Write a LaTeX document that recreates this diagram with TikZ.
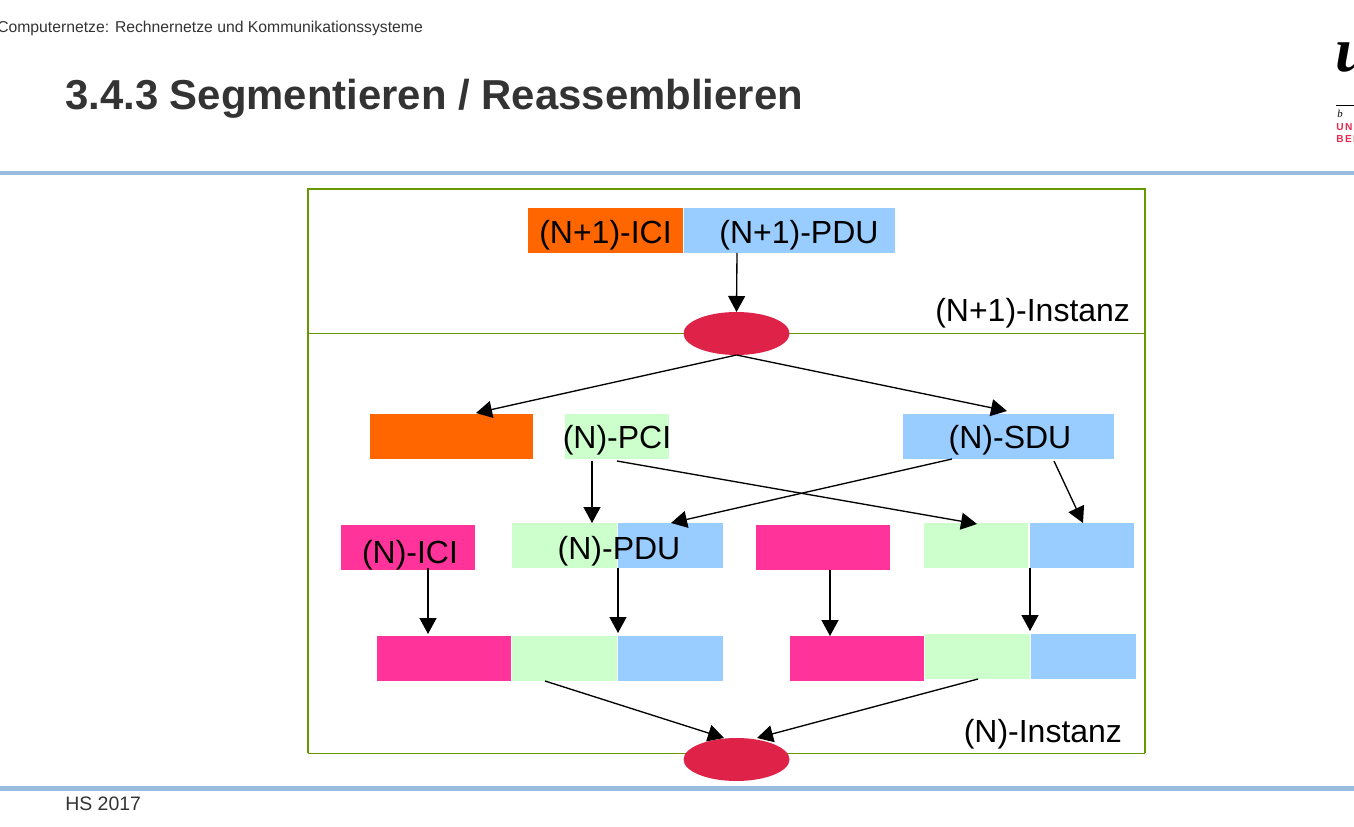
\documentclass[tikz,border=0pt]{standalone}
\usepackage{fontspec}
\setmainfont{Liberation Sans}
\newfontfamily\logoserif{Liberation Serif}
\newfontfamily\logosans[LetterSpace=14]{Liberation Sans}
\usetikzlibrary{shapes.geometric,arrows.meta}
\definecolor{frameg}{HTML}{669900}
\definecolor{rulebl}{HTML}{99BBDD}
\definecolor{orangeb}{HTML}{FF6600}
\definecolor{blueb}{HTML}{99CCFF}
\definecolor{greenb}{HTML}{CCFFCC}
\definecolor{pinkb}{HTML}{FF3399}
\definecolor{redb}{HTML}{DF2348}
\definecolor{titleg}{HTML}{333333}
\definecolor{logored}{HTML}{E6294F}
\newcommand{\pxbox}[6]{%
  \pgfmathsetmacro{\bw}{(#4-#2)*0.75}\pgfmathsetmacro{\bh}{(#5-#3)*0.75}%
  \node[boxn,fill=#6,minimum width=\bw pt,minimum height=\bh pt] (#1) at ({(#2+#4)/2},{(#3+#5)/2}) {};}
\tikzset{
  boxn/.style={draw=none,inner sep=0pt,outer sep=0pt,rectangle},
  proc/.style={ellipse,fill=redb,draw=none,inner sep=0pt,outer sep=0pt,minimum width=79.5pt,minimum height=32.25pt},
  lab/.style={anchor=base,inner sep=0pt,outer sep=0pt,font=\fontsize{24pt}{26pt}\selectfont,text=black},
  arr/.style={-{Triangle[length=12pt,width=12.75pt]},line width=1pt,black},
  lineg/.style={frameg,line width=0.75pt},
  frameline/.style={frameg,line width=1.3pt},
  rulel/.style={rulebl,line width=3.4pt}
}
\begin{document}
\begin{tikzpicture}[x=0.75pt,y=-0.75pt]
\useasboundingbox (0,0) rectangle (1354,827);
% page furniture
\begin{scope}
\clip (0,0) rectangle (1354,827);
\node[anchor=base west,inner sep=0pt,text=titleg,font=\fontsize{11.8pt}{13pt}\selectfont] (hdr) at (-3,33) {Computernetze: Rechnernetze und Kommunikationssysteme};
\node[anchor=base west,inner sep=0pt,text=titleg,font=\fontsize{31.4pt}{35pt}\bfseries\selectfont] (ttl) at (65,110) {3.4.3 Segmentieren / Reassemblieren};
\node[anchor=base west,inner sep=0pt,text=titleg,font=\fontsize{14.6pt}{16pt}\selectfont] (ftr) at (65,810) {HS 2017};
\draw[rulel] (0,173) -- (1354,173);
\draw[rulel] (0,788.5) -- (1354,788.5);
% logo
\node[anchor=base west,inner sep=0pt,font=\logoserif\fontsize{47pt}{50pt}\bfseries\itshape\selectfont] (lgu) at (1335,72) {u};
\draw[black,line width=0.6pt] (1336,105) -- (1354,105);
\node[anchor=base west,inner sep=0pt,font=\logoserif\fontsize{8pt}{9pt}\itshape\selectfont] (lgb) at (1337,118) {b};
\node[anchor=base west,inner sep=0pt,text=logored,font=\logosans\fontsize{7.6pt}{8pt}\bfseries\selectfont] (lgun) at (1336,131) {UN};
\node[anchor=base west,inner sep=0pt,text=logored,font=\logosans\fontsize{7.6pt}{8pt}\bfseries\selectfont] (lgbe) at (1336,143) {BER};
\end{scope}
% frame
\draw[lineg] (308,333.5) -- (1145,333.5);
\draw[lineg] (308,753) -- (1145,753);
\draw[frameline] (308,753) -- (308,189) -- (1145,189) -- (1145,753);
% boxes
\pxbox{iciA}{528}{208}{683}{253}{orangeb}
\pxbox{pduA}{684}{208}{895}{253}{blueb}
\pxbox{iciB}{370}{414}{533}{459}{orangeb}
\pxbox{pci}{565}{414}{669}{459}{greenb}
\pxbox{sdu}{903}{414}{1114}{459}{blueb}
\pxbox{iciN}{341}{525}{475}{570}{pinkb}
\pxbox{gA}{512}{523}{617}{568}{greenb}
\pxbox{bA}{618}{523}{723}{568}{blueb}
\pxbox{pA}{756}{525}{890}{570}{pinkb}
\pxbox{gB}{924}{523}{1028}{568}{greenb}
\pxbox{bB}{1030}{523}{1134}{568}{blueb}
\pxbox{pC}{377}{636}{511}{681}{pinkb}
\pxbox{gC}{512}{636}{617}{681}{greenb}
\pxbox{bC}{618}{636}{723}{681}{blueb}
\pxbox{pD}{790}{636}{924}{681}{pinkb}
\pxbox{gD}{925}{634}{1030}{679}{greenb}
\pxbox{bD}{1031}{634}{1136}{679}{blueb}
\node[proc] (eA) at (736.5,333.5) {};
\node[proc] (eB) at (736.5,759.5) {};
% labels
\node[lab] (l1) at (605.5,244) {(N+1)-ICI};
\node[lab] (l2) at (799,244) {(N+1)-PDU};
\node[lab] (l3) at (617,449) {(N)-PCI};
\node[lab] (l4) at (1010,448) {(N)-SDU};
\node[lab] (l5) at (410,563) {(N)-ICI};
\node[lab] (l6) at (619,559) {(N)-PDU};
\node[lab,anchor=base east] (l7) at (1130,322) {(N+1)-Instanz};
\node[lab,anchor=base east] (l8) at (1122,742) {(N)-Instanz};
% connectors
\draw[arr] ([shift={(-52.5,0)}]pduA.south) -- (eA.north);
\draw[arr] (eA.south) -- ([shift={(24.5,-1)}]iciB.north);
\draw[arr] (eA.south) -- ([shift={(-1.5,-3)}]sdu.north);
\draw[arr] ([shift={(-25,2)}]pci.south) -- ([shift={(27.5,0)}]gA.north);
\draw[arr] ([shift={(0,2)}]pci.south) -- ([shift={(1,1)}]gB.north);
\draw[arr] ([shift={(-56.5,0)}]sdu.south) -- ([shift={(0.5,0)}]bA.north);
\draw[arr] ([shift={(45.5,2)}]sdu.south) -- ([shift={(1,0)}]bB.north);
\draw[arr] ([shift={(20,-2)}]iciN.south) -- ([shift={(-16,-2)}]pC.north);
\draw[arr] (bA.south west) -- ([shift={(0,-3)}]bC.north west);
\draw[arr] ([shift={(7,0)}]pA.south) -- ([shift={(-27,0)}]pD.north);
\draw[arr] (bB.south west) -- ([shift={(0,-3)}]gD.north east);
\draw[arr] ([shift={(-19.5,0)}]gC.south) -- ([shift={(-12.5,0)}]eB.north);
\draw[arr] ([shift={(0.5,0)}]gD.south) -- ([shift={(20.5,0)}]eB.north);
\end{tikzpicture}
\end{document}
